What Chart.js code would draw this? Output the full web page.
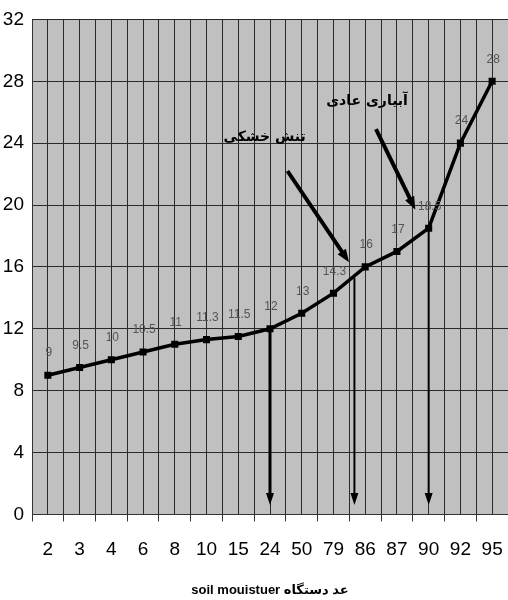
<!DOCTYPE html>
<html><head><meta charset="utf-8">
<script src="https://cdn.jsdelivr.net/npm/chart.js@4/dist/chart.umd.min.js"></script>
<style>html,body{margin:0;padding:0;background:#fff}#wrap{width:508px;height:600px;position:relative}</style>
</head><body><div id="wrap"><canvas id="c"></canvas></div>
<script>
const categories = ['2','3','4','6','8','10','15','24','50','79','86','87','90','92','95'];
const values = [9, 9.5, 10, 10.5, 11, 11.3, 11.5, 12, 13, 14.3, 16, 17, 18.5, 24, 28];
const valueLabels = ['9','9.5','10','10.5','11','11.3','11.5','12','13','14.3','16','17','18.5','24','28'];
const yTicks = [0, 4, 8, 12, 16, 20, 24, 28, 32];
const axisTitle = 'soil mouistuer عد دستگاه';
// vertical drop arrows: [category index, start value, end value, width]
const dropArrows = [[7, 12, 0.6, 3], [9.66, 15.3, 0.6, 2], [12, 18.5, 0.6, 2]];
// slanted arrows: [x0, y0, x1, y1] in category index / value units
const slantArrows = [[7.55, 22.2, 9.49, 16.3], [10.34, 24.9, 11.58, 19.7]];
const notes = [
  {text: 'تنش خشکی', x: 6.83, y: 24.4},
  {text: 'آبیاری عادی', x: 10.06, y: 26.7}
];

const SANS = "'Liberation Sans', 'DejaVu Sans', sans-serif";

const points = values.map((v, i) => ({x: i, y: v}));

function arrowHead(ctx, x0, y0, x1, y1, len, half) {
  const a = Math.atan2(y1 - y0, x1 - x0);
  ctx.beginPath();
  ctx.moveTo(x1, y1);
  ctx.lineTo(x1 - len * Math.cos(a) + half * Math.sin(a), y1 - len * Math.sin(a) - half * Math.cos(a));
  ctx.lineTo(x1 - len * Math.cos(a) - half * Math.sin(a), y1 - len * Math.sin(a) + half * Math.cos(a));
  ctx.closePath();
  ctx.fill();
}

const bgPlugin = {
  id: 'bg',
  beforeDraw(chart) {
    const {ctx, chartArea: a} = chart;
    ctx.save();
    ctx.fillStyle = '#c0c0c0';
    ctx.fillRect(a.left, a.top, a.right - a.left, a.bottom - a.top);
    ctx.restore();
  }
};

const annoPlugin = {
  id: 'anno',
  afterDatasetsDraw(chart) {
    const {ctx} = chart;
    const xs = chart.scales.x, ys = chart.scales.y;
    ctx.save();
    // value labels
    const meta = chart.getDatasetMeta(0);
    ctx.font = "12px " + SANS;
    ctx.fillStyle = '#555';
    ctx.textAlign = 'center';
    ctx.textBaseline = 'middle';
    meta.data.forEach((el, i) => {
      ctx.fillText(valueLabels[i], el.x + 1, el.y - 22);
    });
    ctx.fillStyle = '#000';
    ctx.strokeStyle = '#000';
    // drop arrows
    dropArrows.forEach(([xi, v0, v1, w]) => {
      const x = xs.getPixelForValue(xi);
      const y0 = ys.getPixelForValue(v0), y1 = ys.getPixelForValue(v1);
      ctx.lineWidth = w;
      ctx.beginPath(); ctx.moveTo(x, y0); ctx.lineTo(x, y1 - 10); ctx.stroke();
      arrowHead(ctx, x, y0, x, y1, 12, 4);
    });
    // slanted arrows
    slantArrows.forEach(([a0, b0, a1, b1]) => {
      const x0 = xs.getPixelForValue(a0), y0 = ys.getPixelForValue(b0);
      const x1 = xs.getPixelForValue(a1), y1 = ys.getPixelForValue(b1);
      const ang = Math.atan2(y1 - y0, x1 - x0);
      ctx.lineWidth = 4;
      ctx.beginPath(); ctx.moveTo(x0, y0);
      ctx.lineTo(x1 - 10 * Math.cos(ang), y1 - 10 * Math.sin(ang)); ctx.stroke();
      arrowHead(ctx, x0, y0, x1, y1, 13, 5);
    });
    // notes
    ctx.font = "bold 14px 'DejaVu Sans', sans-serif";
    ctx.textAlign = 'center';
    ctx.textBaseline = 'middle';
    notes.forEach(n => {
      ctx.fillText(n.text, xs.getPixelForValue(n.x), ys.getPixelForValue(n.y));
    });
    ctx.restore();
  }
};

new Chart(document.getElementById('c'), {
  type: 'line',
  data: {
    datasets: [{
      data: points,
      borderColor: '#000',
      backgroundColor: '#000',
      borderWidth: 3.5,
      pointStyle: 'rect',
      pointRadius: 5,
      pointBorderWidth: 0,
      pointBackgroundColor: '#000',
      tension: 0
    }]
  },
  options: {
    responsive: true,
    maintainAspectRatio: false,
    animation: false,
    layout: {autoPadding: false, padding: {left: 0, right: -3, top: 13, bottom: 1}},
    plugins: {legend: {display: false}, tooltip: {enabled: false}},
    scales: {
      x: {
        type: 'linear',
        min: -0.5,
        max: categories.length - 0.5,
        afterBuildTicks(axis) {
          const t = [];
          for (let v = -0.5; v <= categories.length - 0.5 + 1e-9; v += 0.5) t.push({value: v});
          axis.ticks = t;
        },
        afterFit(axis) { axis.paddingLeft = 0; axis.paddingRight = 0; },
        ticks: {
          autoSkip: false, maxRotation: 0, minRotation: 0,
          padding: 16.6,
          color: '#000',
          font: {family: SANS, size: 19},
          callback: v => Number.isInteger(v) ? categories[v] : ''
        },
        grid: {
          color: '#2a2a2a',
          lineWidth: 1,
          tickLength: 7,
          tickColor: ctx => (ctx.tick && Number.isInteger(ctx.tick.value)) ? 'rgba(0,0,0,0)' : '#333'
        },
        border: {color: '#333', width: 1},
        title: {
          display: true,
          text: axisTitle,
          color: '#000',
          font: {family: SANS, size: 13, weight: 'bold'},
          padding: {top: 5, bottom: 1}
        }
      },
      y: {
        min: 0, max: 32,
        afterBuildTicks(axis) { axis.ticks = yTicks.map(v => ({value: v})); },
        afterFit(axis) { axis.width = 32; },
        ticks: {
          color: '#000',
          padding: 8,
          font: {family: SANS, size: 19}
        },
        grid: {color: '#2a2a2a', lineWidth: 1, drawTicks: false},
        border: {color: '#333', width: 1}
      }
    }
  },
  plugins: [bgPlugin, annoPlugin]
});
</script>
</body></html>
